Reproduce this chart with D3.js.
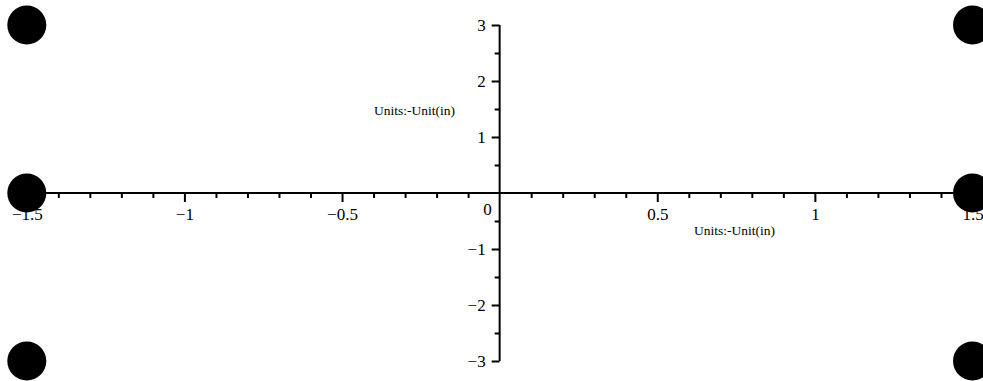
<!DOCTYPE html>
<html>
<head>
<meta charset="utf-8">
<script src="https://cdn.jsdelivr.net/npm/d3@7"></script>
<style>
  html, body { margin: 0; padding: 0; background: #fff; overflow: hidden; }
  svg { display: block; }
</style>
</head>
<body>
<svg id="chart" width="983" height="381"></svg>
<script>
// ---- data ----
const pointsX = [-1.5, -1.5, -1.5, 1.5, 1.5, 1.5];
const pointsY = [3, 0, -3, 3, 0, -3];
const xMajorTicks = [-1.5, -1, -0.5, 0.5, 1, 1.5];
const xTickLabels = ["\u22121.5", "\u22121", "\u22120.5", "0.5", "1", "1.5"];
const xMinorTicks = [-1.4, -1.3, -1.2, -1.1, -0.9, -0.8, -0.7, -0.6, -0.4, -0.3, -0.2, -0.1,
                     0.1, 0.2, 0.3, 0.4, 0.6, 0.7, 0.8, 0.9, 1.1, 1.2, 1.3, 1.4];
const yMajorTicks = [-3, -2, -1, 1, 2, 3];
const yTickLabels = ["\u22123", "\u22122", "\u22121", "1", "2", "3"];
const yMinorTicks = [-2.5, -1.5, -0.5, 0.5, 1.5, 2.5];
const originLabel = "0";
const unitLabelText = ["Units:-Unit(in)", "Units:-Unit(in)"];

// ---- layout ----
const svg = d3.select("#chart");
const x = d3.scaleLinear().domain([-1.5, 1.5]).range([26.8, 972.5]);
const y = d3.scaleLinear().domain([-3, 3]).range([361, 25]);
const font = "'Liberation Serif', 'Times New Roman', serif";

const defs = svg.append("defs");
defs.append("filter").attr("id", "soft")
  .attr("x", "-20%").attr("y", "-20%").attr("width", "140%").attr("height", "140%")
  .append("feGaussianBlur").attr("stdDeviation", 0.7);

// X axis (through y = 0)
const gx = svg.append("g").attr("transform", `translate(0,${y(0)})`);
gx.append("line").attr("x1", x(-1.5)).attr("x2", x(1.5))
  .attr("stroke", "#000").attr("stroke-width", 2);
gx.append("g").call(d3.axisBottom(x).tickValues(xMinorTicks).tickSize(5).tickFormat(""))
  .call(g => g.select(".domain").remove())
  .call(g => g.selectAll("line").attr("stroke-width", 2));
gx.append("g").call(d3.axisBottom(x).tickValues(xMajorTicks).tickSize(9)
    .tickFormat((d, i) => xTickLabels[i]))
  .call(g => g.select(".domain").remove())
  .call(g => g.selectAll("line").attr("stroke-width", 2))
  .call(g => g.selectAll("text")
    .attr("y", 27).attr("dy", 0)
    .attr("font-family", font).attr("font-size", 17).attr("fill", "#000"));

// Y axis (through x = 0)
const gy = svg.append("g").attr("transform", `translate(${x(0)},0)`);
gy.append("line").attr("y1", y(3)).attr("y2", y(-3))
  .attr("stroke", "#000").attr("stroke-width", 2);
gy.append("g").call(d3.axisLeft(y).tickValues(yMinorTicks).tickSize(5).tickFormat(""))
  .call(g => g.select(".domain").remove())
  .call(g => g.selectAll("line").attr("stroke-width", 2));
gy.append("g").call(d3.axisLeft(y).tickValues(yMajorTicks).tickSize(8)
    .tickFormat((d, i) => yTickLabels[i]))
  .call(g => g.select(".domain").remove())
  .call(g => g.selectAll("line").attr("stroke-width", 2))
  .call(g => g.selectAll("text")
    .attr("x", -14).attr("dy", "0.35em")
    .attr("font-family", font).attr("font-size", 17).attr("fill", "#000"));

// Origin label
svg.append("text").attr("x", x(0) - 8).attr("y", y(0) + 22)
  .attr("text-anchor", "end")
  .attr("font-family", font).attr("font-size", 17).attr("fill", "#000")
  .text(originLabel);

// Unit labels
svg.append("text").attr("x", x(-0.27)).attr("y", y(1.4))
  .attr("text-anchor", "middle")
  .attr("font-family", font).attr("font-size", 13.5).attr("fill", "#000")
  .text(unitLabelText[0]);
svg.append("text").attr("x", x(0.745)).attr("y", y(-0.75))
  .attr("text-anchor", "middle")
  .attr("font-family", font).attr("font-size", 13.5).attr("fill", "#000")
  .text(unitLabelText[1]);

// Points
svg.append("g").selectAll("circle")
  .data(pointsX.map((d, i) => [d, pointsY[i]]))
  .join("circle")
  .attr("cx", d => x(d[0]))
  .attr("cy", d => y(d[1]))
  .attr("r", 19.5)
  .attr("fill", "#000")
  .attr("filter", "url(#soft)");
</script>
</body>
</html>
